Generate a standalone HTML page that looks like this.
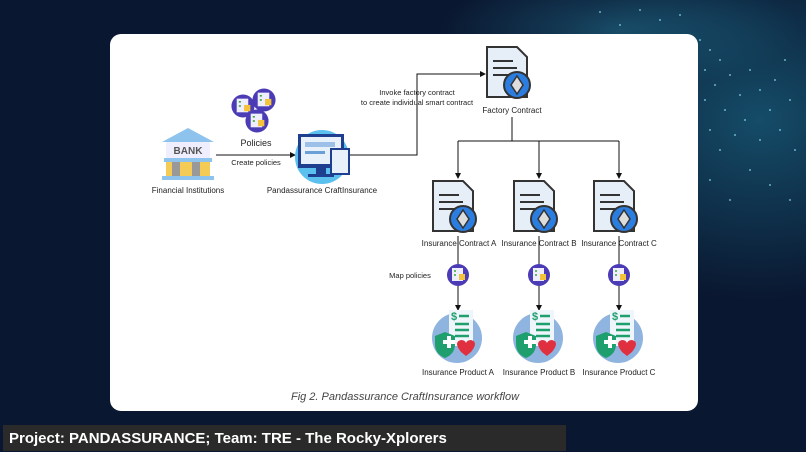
<!DOCTYPE html>
<html><head><meta charset="utf-8"><style>
html,body{margin:0;padding:0;width:806px;height:457px;overflow:hidden;background:#fff}
.bg{position:absolute;left:0;top:0;width:806px;height:452px;background:#0a1730;overflow:hidden}
.glow{position:absolute;left:0;top:0;width:806px;height:452px;background:radial-gradient(ellipse 220px 180px at 760px 120px,rgba(30,120,150,.55),rgba(10,40,70,0) 100%),radial-gradient(ellipse 180px 60px at 620px 30px,rgba(40,130,160,.45),rgba(10,40,70,0) 100%);}
.card{position:absolute;left:110px;top:34px;width:588px;height:377px;background:#fff;border-radius:11px}
.bar{position:absolute;left:3px;top:425px;width:563px;height:26px;background:#2a2a2a;color:#fff;font:bold 15px "Liberation Sans",sans-serif;line-height:27px;padding-left:6px;box-sizing:border-box}
svg{position:absolute;left:0;top:0}
text{font-family:"Liberation Sans",sans-serif;font-size:8px;fill:#222}
</style></head><body>
<div class="bg"><div class="glow"></div></div>
<svg width="806" height="452" style="opacity:.7">
<g fill="#8fe3f5">
<circle cx="700" cy="40" r="1"/><circle cx="710" cy="50" r="1"/><circle cx="720" cy="60" r="1"/><circle cx="705" cy="70" r="1"/><circle cx="715" cy="85" r="1"/><circle cx="730" cy="75" r="1"/><circle cx="740" cy="95" r="1"/><circle cx="725" cy="110" r="1"/><circle cx="750" cy="70" r="1"/><circle cx="760" cy="90" r="1"/><circle cx="775" cy="80" r="1"/><circle cx="790" cy="100" r="1"/><circle cx="770" cy="110" r="1"/><circle cx="785" cy="60" r="1"/><circle cx="745" cy="120" r="1"/><circle cx="710" cy="130" r="1"/><circle cx="720" cy="150" r="1"/><circle cx="760" cy="140" r="1"/><circle cx="780" cy="130" r="1"/><circle cx="640" cy="10" r="1"/><circle cx="660" cy="20" r="1"/><circle cx="620" cy="25" r="1"/><circle cx="680" cy="15" r="1"/><circle cx="600" cy="12" r="1"/><circle cx="795" cy="150" r="1"/><circle cx="705" cy="100" r="1"/><circle cx="735" cy="135" r="1"/><circle cx="750" cy="170" r="1"/><circle cx="770" cy="185" r="1"/><circle cx="790" cy="200" r="1"/><circle cx="710" cy="180" r="1"/><circle cx="730" cy="200" r="1"/>
</g></svg>
<div class="card"></div>
<svg width="806" height="452">
<defs>
<marker id="a" markerWidth="6" markerHeight="6" refX="5" refY="3" orient="auto"><path d="M0,0 L6,3 L0,6z" fill="#111"/></marker>
<g id="doc"><path d="M-20,-26 h30 l10,10 v40 h-40z" fill="#e6eef8" stroke="#333" stroke-width="2"/><g stroke="#333" stroke-width="2"><line x1="-14" y1="-12" x2="6" y2="-12"/><line x1="-14" y1="-5" x2="10" y2="-5"/><line x1="-14" y1="2" x2="6" y2="2"/></g><circle cx="10" cy="12" r="13" fill="#2b7de0" stroke="#333" stroke-width="2"/><path d="M10,3 l6,9 l-6,9 l-6,-9z" fill="#ddd" stroke="#333" stroke-width="1.5"/></g>
<g id="pol"><circle r="11" fill="#4b3bb5"/><rect x="-6" y="-7" width="11" height="13" fill="#eef" /><rect x="1" y="-1" width="6" height="6" fill="#f3c33a"/><g stroke="#3a3" stroke-width="1.5"><line x1="-4" y1="-4" x2="-2" y2="-4"/><line x1="-4" y1="0" x2="-2" y2="0"/></g></g>
<g id="prod"><circle r="25" fill="#8fb4e0"/><rect x="-8" y="-28" width="24" height="36" fill="#eef5fb"/><g stroke="#1f9e6e" stroke-width="2.5"><line x1="-2" y1="-14" x2="12" y2="-14"/><line x1="-2" y1="-8" x2="12" y2="-8"/><line x1="-2" y1="-2" x2="12" y2="-2"/><line x1="2" y1="-22" x2="12" y2="-22"/></g><text x="-6" y="-18" style="font-size:11px;font-weight:bold;fill:#1f9e6e">$</text><path d="M-22,-2 l10,-4 l10,4 v8 q0,10 -10,14 q-10,-4 -10,-14z" fill="#1f9e6e"/><path d="M-14,2 h4 v-4 h4 v4 h4 v4 h-4 v4 h-4 v-4 h-4z" fill="#fff"/><path d="M4,14 q-8,-10 0,-12 q4,0 5,3 q1,-3 5,-3 q8,2 0,12 l-5,4z" fill="#e03040"/></g>
</defs>
<path d="M162,142 L188,128 L214,142z" fill="#8ec3ee"/>
<rect x="166" y="142" width="44" height="16" fill="#eef"/>
<text x="188" y="154" text-anchor="middle" style="font-size:10px;font-weight:bold;fill:#555">BANK</text>
<rect x="164" y="158" width="48" height="4" fill="#8ec3ee"/>
<rect x="166" y="162" width="44" height="14" fill="#f4cc55"/>
<rect x="172" y="162" width="8" height="14" fill="#999"/><rect x="192" y="162" width="8" height="14" fill="#999"/>
<rect x="162" y="176" width="52" height="4" fill="#8ec3ee"/>
<text x="188" y="193" text-anchor="middle">Financial Institutions</text>
<use href="#pol" transform="translate(243,106) scale(1.05)"/><use href="#pol" transform="translate(264,100) scale(1.05)"/><use href="#pol" transform="translate(257,121) scale(1.05)"/>
<text x="256" y="146" text-anchor="middle" style="font-size:9px">Policies</text>
<line x1="216" y1="155" x2="295" y2="155" stroke="#111" marker-end="url(#a)"/>
<text x="256" y="165" text-anchor="middle" style="font-size:7.5px">Create policies</text>
<circle cx="322" cy="157" r="27" fill="#5cc0ee"/>
<rect x="298" y="134" width="46" height="34" fill="#1e3f90"/><rect x="301" y="137" width="40" height="27" fill="#e8f0fa"/>
<rect x="305" y="142" width="30" height="5" fill="#9cc0e8"/><rect x="305" y="151" width="20" height="3" fill="#6aa0d8"/>
<rect x="316" y="168" width="10" height="6" fill="#1e3f90"/><rect x="308" y="174" width="26" height="3" fill="#1e3f90"/>
<rect x="330" y="148" width="20" height="27" fill="#1e3f90"/><rect x="332" y="150" width="16" height="23" fill="#e8f0fa"/>
<text x="322" y="193" text-anchor="middle">Pandassurance CraftInsurance</text>
<polyline points="350,155 417,155 417,74 485,74" fill="none" stroke="#111" marker-end="url(#a)"/>
<text x="417" y="95" text-anchor="middle" style="font-size:7.5px">Invoke factory contract</text>
<text x="417" y="105" text-anchor="middle" style="font-size:7.5px">to create individual smart contract</text>
<use href="#doc" transform="translate(507,73)"/>
<text x="512" y="113" text-anchor="middle">Factory Contract</text>
<polyline points="512,117 512,141" fill="none" stroke="#111"/>
<line x1="458" y1="141" x2="619" y2="141" stroke="#111"/>
<g stroke="#111" fill="none">
<line x1="458" y1="141" x2="458" y2="178" marker-end="url(#a)"/>
<line x1="539" y1="141" x2="539" y2="178" marker-end="url(#a)"/>
<line x1="619" y1="141" x2="619" y2="178" marker-end="url(#a)"/>
<line x1="458" y1="236" x2="458" y2="310" marker-end="url(#a)"/>
<line x1="539" y1="236" x2="539" y2="310" marker-end="url(#a)"/>
<line x1="619" y1="236" x2="619" y2="310" marker-end="url(#a)"/>
</g>
<use href="#doc" transform="translate(453,207)"/><use href="#doc" transform="translate(534,207)"/><use href="#doc" transform="translate(614,207)"/>
<g text-anchor="middle">
<text x="459" y="246">Insurance Contract A</text><text x="539" y="246">Insurance Contract B</text><text x="619" y="246">Insurance Contract C</text>
<text x="458" y="375">Insurance Product A</text><text x="539" y="375">Insurance Product B</text><text x="619" y="375">Insurance Product C</text>
</g>
<use href="#pol" transform="translate(458,275)"/><use href="#pol" transform="translate(539,275)"/><use href="#pol" transform="translate(619,275)"/>
<text x="410" y="278" text-anchor="middle" style="font-size:7.5px">Map policies</text>
<use href="#prod" transform="translate(457,338)"/><use href="#prod" transform="translate(538,338)"/><use href="#prod" transform="translate(618,338)"/>
<text x="405" y="400" text-anchor="middle" style="font-size:11px;font-style:italic;fill:#444">Fig 2. Pandassurance CraftInsurance workflow</text>
</svg>
<div class="bar">Project: PANDASSURANCE; Team: TRE - The Rocky-Xplorers</div>
</body></html>
